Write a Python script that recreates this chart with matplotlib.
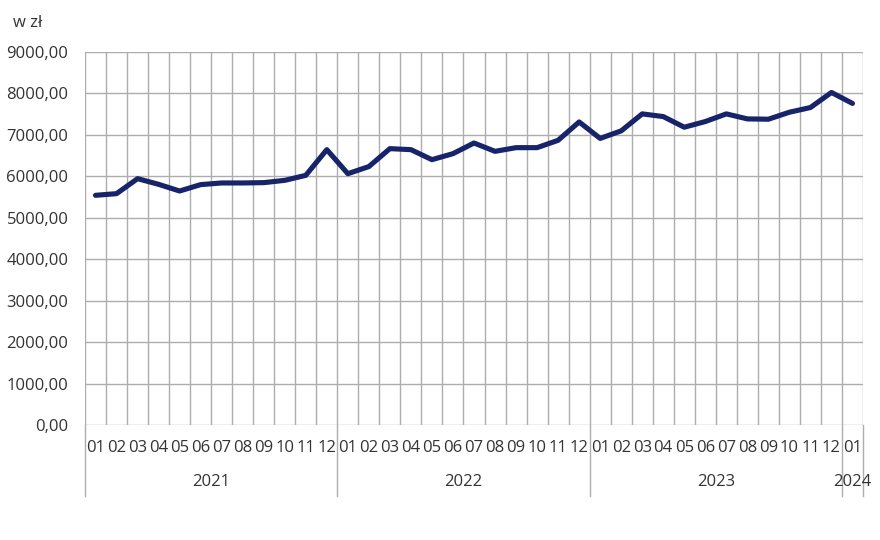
import numpy as np
import matplotlib.pyplot as plt
import matplotlib.transforms as mtransforms

plt.rcParams['font.family'] = ['Open Sans', 'DejaVu Sans']

years = ['2021', '2022', '2023', '2024']
year_months = [12, 12, 12, 1]
months = ['01', '02', '03', '04', '05', '06', '07', '08', '09', '10', '11', '12'] * 3 + ['01']
wages = [5542, 5582, 5944, 5807, 5646, 5800, 5840, 5840, 5848, 5903, 6024, 6644,
         6064, 6235, 6668, 6644, 6402, 6547, 6804, 6603, 6692, 6692, 6869, 7312,
         6915, 7097, 7507, 7442, 7185, 7322, 7507, 7386, 7378, 7547, 7660, 8024,
         7759]
yticks = np.arange(0, 9001, 1000)

grid_col = '#adadad'
text_col = '#333333'
line_col = '#17246a'

fig = plt.figure(figsize=(8.8, 5.4), dpi=100)
ax = fig.add_axes([85/880, 115/540, 778/880, 373/540])

n = len(wages)
x = np.arange(n) + 0.5
ax.plot(x, wages, color=line_col, lw=3.7, solid_joinstyle='round', solid_capstyle='round', zorder=3)

ax.set_xlim(0, n)
ax.set_ylim(0, 9000)
ax.set_yticks(yticks)
ax.set_yticklabels(['{:.2f}'.format(v).replace('.', ',') for v in yticks])
ax.set_xticks(np.arange(n + 1))
ax.set_xticklabels([])
ax.tick_params(axis='both', length=0, colors=text_col, labelsize=12)
ax.tick_params(axis='y', pad=12)
ax.grid(True, color=grid_col, lw=1)
for s in ax.spines.values():
    s.set_visible(False)

trans = mtransforms.blended_transform_factory(ax.transData, ax.transAxes)
for i, m in enumerate(months):
    ax.text(i + 0.5, -0.063, m, transform=trans, ha='center', va='center',
            fontsize=12, color=text_col)

# year separators and labels
start = 0
for yr, cnt in zip(years, year_months):
    ax.plot([start, start], [0, -0.19], transform=trans, color=grid_col, lw=1, clip_on=False)
    ax.text(start + cnt / 2, -0.153, yr, transform=trans, ha='center', va='center',
            fontsize=12, color=text_col)
    start += cnt
ax.plot([start, start], [0, -0.19], transform=trans, color=grid_col, lw=1, clip_on=False)

fig.text(13/880, 1 - 23/540, 'w zł', ha='left', va='center', fontsize=12, color=text_col)

fig.savefig('out.png', dpi=100)
